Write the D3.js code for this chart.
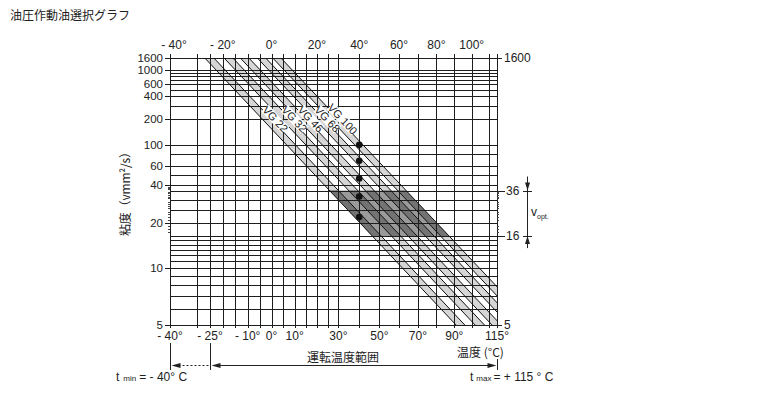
<!DOCTYPE html>
<html>
<head>
<meta charset="utf-8">
<script src="https://cdn.jsdelivr.net/npm/d3@7"></script>
<style>
body{margin:0;background:#fff;}
text{font-family:"Liberation Sans",Arial,sans-serif;fill:#222;}
.jp{font-family:"Noto Sans CJK JP","Noto Sans",sans-serif;}
</style>
</head>
<body>
<div id="main_div"></div>
<script>
// ISO VG grades, viscosity at 40°C (dots)
let grades=["VG 22","VG 32","VG 46","VG 68","VG 100"];
let vg40=[22,32,46,68,100];
// band edges: temperature where each edge crosses 1600 and 5 mm²/s
let topLo=[-27,-19.5,-13,-6,0.5];
let topHi=[-23.5,-16,-9.5,-2.5,4];
let botLo=[91,102,112,122.5,132];
let botHi=[96,107.5,117.5,128,137.5];
// optimal viscosity range
let vOpt=[16,36];

let vGrid=[1600,1000,900,800,700,600,500,400,300,200,100,80,60,50,40,36,30,25,20,16,15,14,13,12,11,10,9,8,7,6,5];
let vLabels=[1600,1000,600,400,200,100,60,40,20,10,5];
let vMinor=[17,18,19,21,22,23,24,26,27,28,29,31,32,33,34,35,37,38,39];
let tGrid=[-40,-30,-25,-20,-15,-10,-5,0,5,10,15,20,25,30,40,50,60,70,80,90,100,110,115];
let tTop=[-40,-20,0,20,40,60,80,100];
let tBottom=[-40,-25,-10,0,10,30,50,70,90,115];

let xScale,yScale,svg;
let plot={left:170,right:497,top:58,bottom:325};

chart();

function chart(){
    createSVG();
    makeScales();
    drawBands();
    drawGrid();
    drawBandLines();
    drawAxes();
    drawNotes();
}

function W(v){return Math.log10(Math.log10(v+0.7));}
function X(t){return xScale(t+273.15);}
function Y(v){return yScale(W(v));}
function px(a){return Math.round(a)+0.5;}

function createSVG(){
    svg=d3.select("#main_div")
        .append("svg")
        .attr("width",762)
        .attr("height",394)
        .attr("id","main_svg");
    let defs=svg.append("defs");
    defs.append("clipPath").attr("id","plotClip")
        .append("rect")
        .attr("x",plot.left).attr("y",plot.top)
        .attr("width",plot.right-plot.left).attr("height",plot.bottom-plot.top);
    svg.append("text")
        .attr("class","jp")
        .attr("x",10).attr("y",20)
        .style("font-size","12px")
        .text("油圧作動油選択グラフ");
}

function makeScales(){
    /**temperature on log absolute scale, viscosity on log-log scale**/
    xScale=d3.scaleLog()
        .domain([233.15,388.15])
        .range([plot.left,plot.right]);
    yScale=d3.scaleLinear()
        .domain([W(5),W(1600)])
        .range([plot.bottom,plot.top]);
    svg.select("defs").append("clipPath").attr("id","optClip")
        .append("rect")
        .attr("x",plot.left).attr("y",Y(vOpt[1]))
        .attr("width",plot.right-plot.left).attr("height",Y(vOpt[0])-Y(vOpt[1]));
}

function bandPoints(i){
    return [[X(topLo[i]),Y(1600)],[X(topHi[i]),Y(1600)],[X(botHi[i]),Y(5)],[X(botLo[i]),Y(5)]];
}

function drawBands(){
    let g=svg.append("g").attr("clip-path","url(#plotClip)");
    g.selectAll("polygon.band")
        .data(grades)
        .enter()
        .append("polygon")
        .attr("class","band")
        .attr("points",(d,i)=>bandPoints(i).join(" "))
        .attr("fill","#d6d6d6");

    /**optimal viscosity area**/
    let opt=g.append("g").attr("clip-path","url(#optClip)");
    let n=grades.length-1;
    opt.append("polygon")
        .attr("points",[[X(topLo[0]),Y(1600)],[X(topHi[n]),Y(1600)],[X(botHi[n]),Y(5)],[X(botLo[0]),Y(5)]].join(" "))
        .attr("fill","#9a9a9a");
    opt.selectAll("polygon.dark")
        .data(grades)
        .enter()
        .append("polygon")
        .attr("class","dark")
        .attr("points",(d,i)=>bandPoints(i).join(" "))
        .attr("fill","#737373");
}

function drawGrid(){
    let g=svg.append("g").attr("id","grid");
    g.selectAll("line.h")
        .data(vGrid)
        .enter()
        .append("line")
        .attr("class","h")
        .attr("x1",d=>vLabels.includes(d)?plot.left-5:plot.left)
        .attr("x2",plot.right)
        .attr("y1",d=>px(Y(d)))
        .attr("y2",d=>px(Y(d)))
        .attr("stroke","#1e1e1e")
        .attr("shape-rendering","crispEdges");
    g.selectAll("line.v")
        .data(tGrid)
        .enter()
        .append("line")
        .attr("class","v")
        .attr("x1",d=>px(X(d)))
        .attr("x2",d=>px(X(d)))
        .attr("y1",plot.top-4)
        .attr("y2",plot.bottom+3)
        .attr("stroke","#1e1e1e")
        .attr("shape-rendering","crispEdges");
    /**small dotted ticks around optimal range**/
    g.selectAll("line.ml")
        .data(vMinor)
        .enter()
        .append("line")
        .attr("x1",plot.left-2).attr("x2",plot.left)
        .attr("y1",d=>px(Y(d))).attr("y2",d=>px(Y(d)))
        .attr("stroke","#444").attr("shape-rendering","crispEdges");
    g.selectAll("line.mr")
        .data(vMinor.filter(d=>d<36))
        .enter()
        .append("line")
        .attr("x1",plot.right).attr("x2",plot.right+2)
        .attr("y1",d=>px(Y(d))).attr("y2",d=>px(Y(d)))
        .attr("stroke","#444").attr("shape-rendering","crispEdges");
}

function drawBandLines(){
    let g=svg.append("g").attr("clip-path","url(#plotClip)");
    let edges=[];
    grades.forEach((d,i)=>{
        edges.push([topLo[i],botLo[i]]);
        edges.push([topHi[i],botHi[i]]);
    });
    g.selectAll("line.edge")
        .data(edges)
        .enter()
        .append("line")
        .attr("x1",d=>X(d[0])).attr("y1",Y(1600))
        .attr("x2",d=>X(d[1])).attr("y2",Y(5))
        .attr("stroke","#111")
        .attr("stroke-width",1);

    /**grade labels in the white gap right of each band**/
    let yl=Y(200);
    let f=(yl-Y(1600))/(Y(5)-Y(1600));
    let labels=svg.append("g");
    grades.forEach((d,i)=>{
        let xt=X(topHi[i]), xb=X(botHi[i]);
        let cx=xt+f*(xb-xt)+4;
        let ang=Math.atan2(Y(5)-Y(1600),xb-xt)*180/Math.PI;
        let lg=labels.append("g").attr("transform","translate("+cx+","+yl+") rotate("+ang+")");
        let w=d.length*5.6+2;
        lg.append("rect").attr("x",-w/2).attr("y",-5).attr("width",w).attr("height",10).attr("fill","#fff");
        lg.append("text").attr("text-anchor","middle").attr("dy","0.36em")
            .style("font-size","11px").text(d);
    });

    /**viscosity at 40°C**/
    svg.selectAll("circle.vg")
        .data(vg40)
        .enter()
        .append("circle")
        .attr("cx",X(40))
        .attr("cy",d=>Y(d))
        .attr("r",3.3)
        .attr("fill","#111");
}

function fmt(t){
    return (t<0?"- "+Math.abs(t):t)+"°";
}

function drawAxes(){
    let g=svg.append("g").attr("id","axes").style("font-size","12px");
    g.selectAll("text.vl")
        .data(vLabels)
        .enter()
        .append("text")
        .attr("x",plot.left-7)
        .attr("y",d=>Y(d))
        .attr("dy","0.35em")
        .attr("text-anchor","end")
        .style("font-size","11.5px")
        .text(d=>d);
    g.selectAll("text.tt")
        .data(tTop)
        .enter()
        .append("text")
        .attr("x",d=>X(d)+(d==-40?4:0))
        .attr("y",plot.top-9)
        .attr("text-anchor","middle")
        .text(fmt);
    g.selectAll("text.tb")
        .data(tBottom)
        .enter()
        .append("text")
        .attr("x",d=>X(d))
        .attr("y",plot.bottom+15)
        .attr("text-anchor","middle")
        .text(fmt);

    /**right side labels**/
    [1600,5].forEach(v=>{
        g.append("line").attr("x1",plot.right).attr("x2",plot.right+5)
            .attr("y1",px(Y(v))).attr("y2",px(Y(v))).attr("stroke","#222").attr("shape-rendering","crispEdges");
        g.append("text").attr("x",plot.right+7).attr("y",Y(v)).attr("dy","0.36em").text(v);
    });
    vOpt.forEach(v=>{
        g.append("line").attr("x1",plot.right).attr("x2",plot.right+8)
            .attr("y1",px(Y(v))).attr("y2",px(Y(v))).attr("stroke","#222").attr("shape-rendering","crispEdges");
        g.append("text").attr("x",plot.right+9).attr("y",Y(v)).attr("dy","0.36em").text(v);
    });

    /**y axis title**/
    svg.append("text")
        .attr("class","jp")
        .attr("transform","translate(130,191) rotate(-90)")
        .attr("text-anchor","middle")
        .attr("textLength",90)
        .attr("lengthAdjust","spacing")
        .style("font-size","12px")
        .text("粘度（vmm²/s）");
    svg.append("text")
        .attr("class","jp")
        .attr("x",457).attr("y",357)
        .style("font-size","12px")
        .text("温度 (°C)");
}

function drawNotes(){
    let g=svg.append("g");
    let xa=527,y36=Y(vOpt[1]),y16=Y(vOpt[0]);
    g.append("line").attr("x1",px(xa)).attr("x2",px(xa)).attr("y1",y36-14).attr("y2",y16+12)
        .attr("stroke","#222");
    [y36,y16].forEach(y=>{
        g.append("line").attr("x1",xa-4).attr("x2",xa+5).attr("y1",px(y)).attr("y2",px(y))
            .attr("stroke","#222").attr("shape-rendering","crispEdges");
    });
    let a=xa+0.5;
    g.append("path").attr("d","M"+(a-2.5)+","+(y36-8)+"L"+(a+2.5)+","+(y36-8)+"L"+a+","+y36+"Z").attr("fill","#222");
    g.append("path").attr("d","M"+(a-2.5)+","+(y16+8)+"L"+(a+2.5)+","+(y16+8)+"L"+a+","+y16+"Z").attr("fill","#222");
    let vt=g.append("text").attr("x",531).attr("y",(y36+y16)/2+3).style("font-size","12px").text("v");
    vt.append("tspan").attr("dy",3).style("font-size","7px").text("opt.");

    /**operating temperature range**/
    let x40=px(X(-40)),x25=px(X(-25)),x115=px(X(115));
    let ya=365.5;
    g.append("line").attr("x1",x40).attr("x2",x40).attr("y1",343).attr("y2",370).attr("stroke","#222");
    g.append("line").attr("x1",x25).attr("x2",x25).attr("y1",343).attr("y2",370).attr("stroke","#222");
    g.append("line").attr("x1",x115).attr("x2",x115).attr("y1",359).attr("y2",370).attr("stroke","#222");
    g.append("line").attr("x1",x40+8).attr("x2",x25).attr("y1",ya).attr("y2",ya)
        .attr("stroke","#222").attr("stroke-dasharray","2,2");
    g.append("line").attr("x1",x25+8).attr("x2",x115-8).attr("y1",ya).attr("y2",ya).attr("stroke","#222");
    let arrow=(tip,dir)=>"M"+tip+","+ya+"L"+(tip+dir*9)+","+(ya-2.5)+"L"+(tip+dir*9)+","+(ya+2.5)+"Z";
    g.append("path").attr("d",arrow(x40+1,1)).attr("fill","#222");
    g.append("path").attr("d",arrow(x25+1,1)).attr("fill","#222");
    g.append("path").attr("d",arrow(x115-1,-1)).attr("fill","#222");
    g.append("text").attr("class","jp").attr("x",343).attr("y",362)
        .attr("text-anchor","middle").style("font-size","12px").text("運転温度範囲");

    let t1=g.append("text").attr("x",116).attr("y",381).style("font-size","12px").text("t");
    t1.append("tspan").attr("dx",4).style("font-size","8px").text("min");
    t1.append("tspan").attr("dx",3).text("= - 40° C");
    let t2=g.append("text").attr("x",470).attr("y",381).style("font-size","12px").text("t");
    t2.append("tspan").attr("dx",3).style("font-size","8px").text("max");
    t2.append("tspan").attr("dx",2).text("= + 115 ° C");
}
</script>
</body>
</html>
